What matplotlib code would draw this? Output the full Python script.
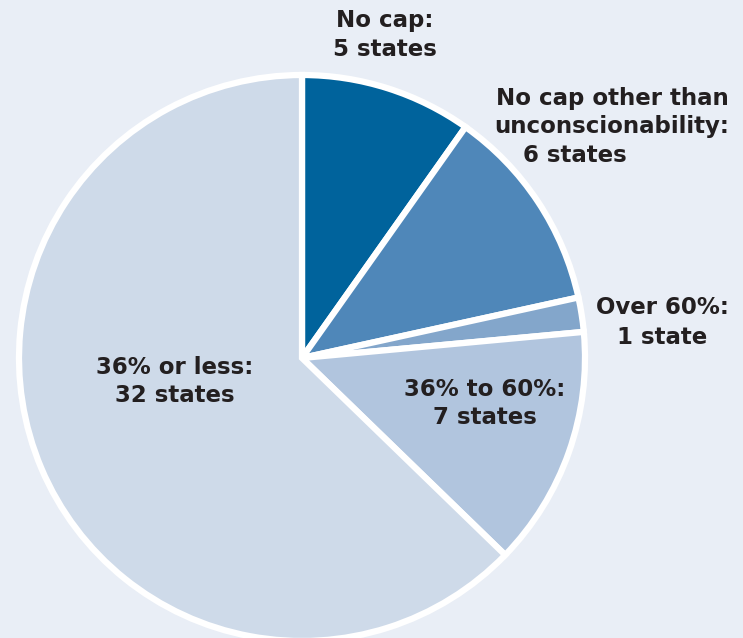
import matplotlib
matplotlib.use("Agg")
import matplotlib.pyplot as plt

# Interest-rate caps on payday-style loans, number of states per category
categories = ["No cap", "No cap other than unconscionability", "Over 60%", "36% to 60%", "36% or less"]
states = [5, 6, 1, 7, 32]
colors = ["#00639c", "#4f87b9", "#83a6cb", "#b1c5de", "#cedae9"]

W, H = 743, 638
BG = "#e9eef6"

fig = plt.figure(figsize=(W / 100, H / 100), dpi=100, facecolor=BG)
ax = fig.add_axes([0, 0, 1, 1])
ax.set_facecolor(BG)

cx, cy, r = 302, 358, 283
wedges, _ = ax.pie(states, colors=colors, startangle=90, counterclock=False,
                   center=(cx, cy), radius=r, frame=True,
                   wedgeprops=dict(edgecolor="white", linewidth=4.5))
# y axis is inverted, so flip the pie back to the usual orientation
for w in wedges:
    t1, t2 = w.theta1, w.theta2
    w.set_theta1(-t2)
    w.set_theta2(-t1)
ax.set_xlim(0, W)
ax.set_ylim(H, 0)
ax.set_aspect("equal")
ax.axis("off")

font = dict(family=["DejaVu Sans"], fontweight="bold",
            fontsize=16.5, color="#231f20", ha="center", va="center")

ax.text(385, 21, "No cap:", **font)
ax.text(385, 49, "5 states", **font)

ax.text(612, 99, "No cap other than", **font)
ax.text(612, 127, "unconscionability:", **font)
ax.text(575, 156, "6 states", **font)

ax.text(662, 308, "Over 60%:", **font)
ax.text(662, 338, "1 state", **font)

ax.text(485, 389, "36% to 60%:", **font)
ax.text(485, 418, "7 states", **font)

ax.text(175, 367, "36% or less:", **font)
ax.text(175, 396, "32 states", **font)

fig.savefig("out.png", dpi=100, facecolor=BG)
